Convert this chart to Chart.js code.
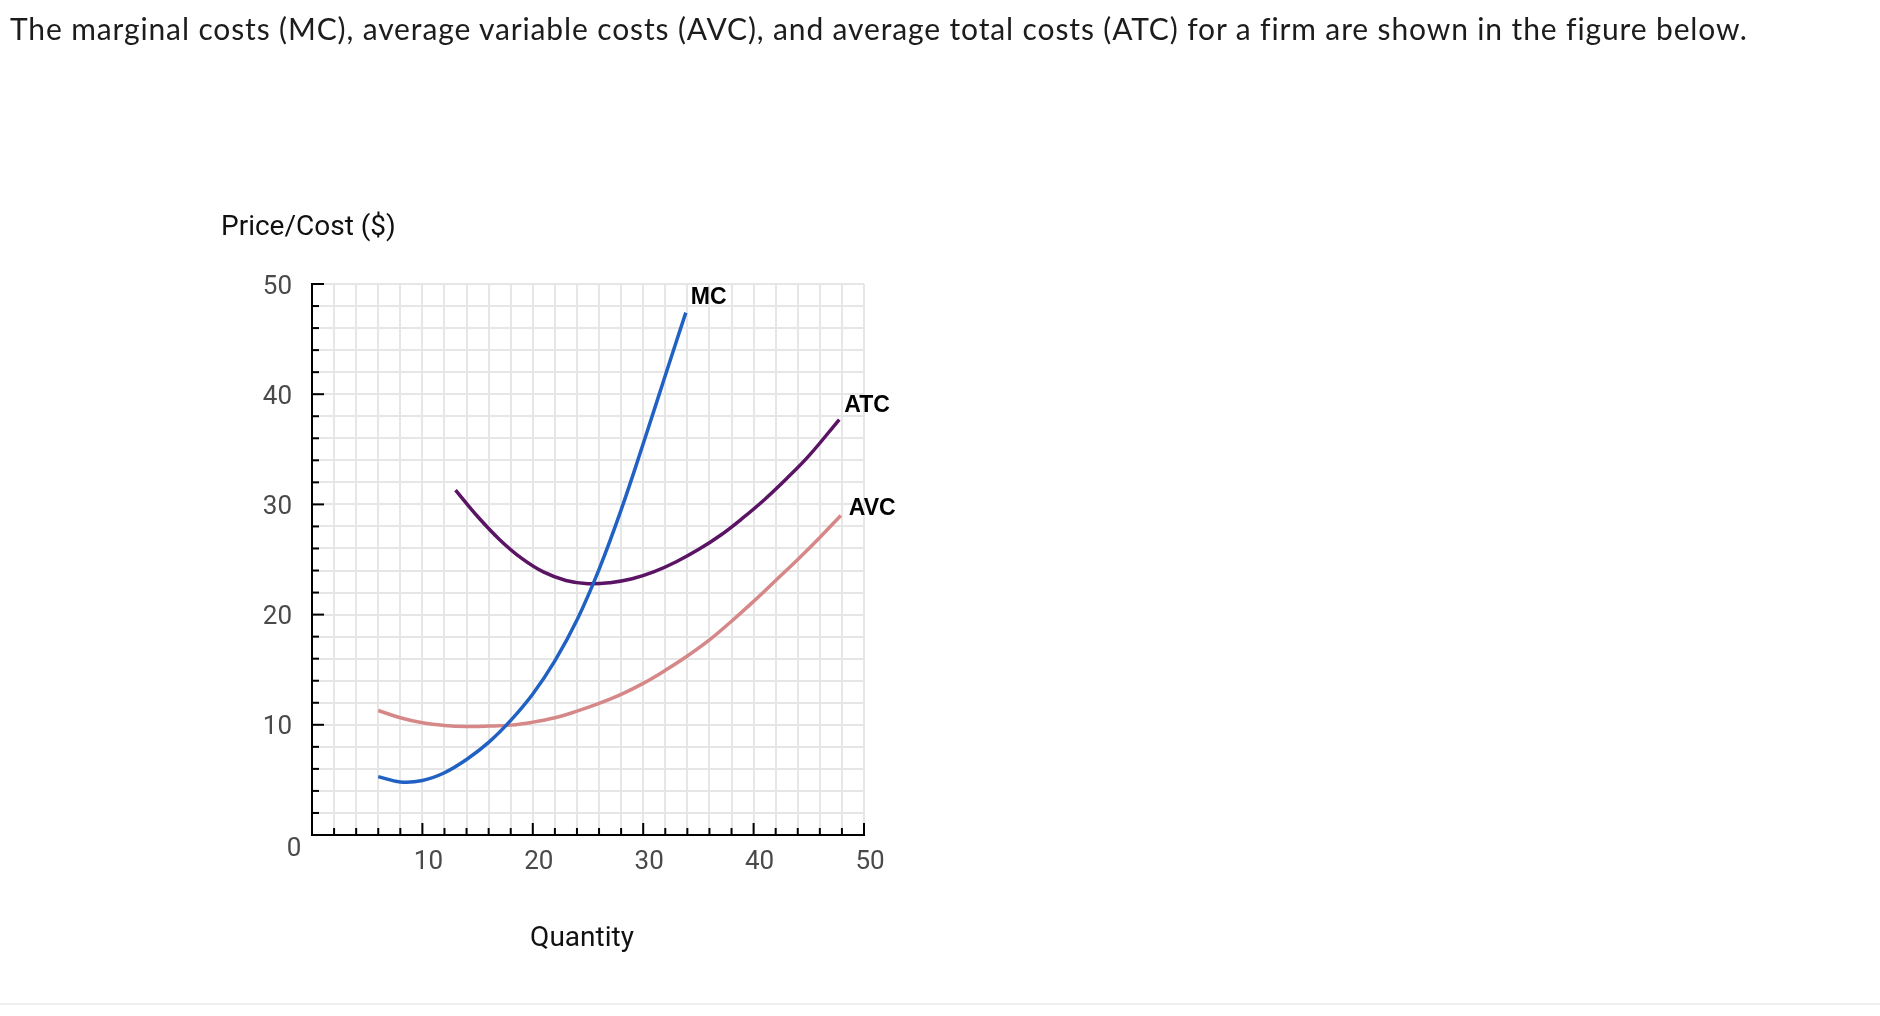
<!DOCTYPE html>
<html>
<head>
<meta charset="utf-8">
<script src="https://cdn.jsdelivr.net/npm/chart.js@4"></script>
<style>
  html, body { margin: 0; padding: 0; background: #fff; }
  body { width: 1880px; height: 1016px; position: relative; overflow: hidden; }
  #question {
    position: absolute; left: 10px; top: 10px;
    font-family: Lato, "Open Sans", sans-serif; font-size: 30px; color: #1c1c1c;
    white-space: nowrap;
  }
  #wrap { position: absolute; left: 0; top: 0; width: 1880px; height: 1016px; }
  #rule { position: absolute; left: 0; top: 1003px; width: 1880px; height: 2px; background: #efefef; }
</style>
</head>
<body>
<div id="wrap"><canvas id="chart-costs" width="1880" height="1016"></canvas></div>
<div id="question">The marginal costs (MC), average variable costs (AVC), and average total costs (ATC) for a firm are shown in the figure below.</div>
<div id="rule"></div>
<script>
// values (quantity, price/cost in $)
const mcQ  = [6, 8, 10, 12, 14, 16, 18, 20, 22, 24, 26, 28, 30, 32, 33.86];
const mcP  = [5.3, 4.82, 4.95, 5.65, 6.85, 8.4, 10.4, 12.8, 15.8, 19.5, 24.1, 29.5, 35.5, 41.7, 47.4];

const atcQ = [13, 15, 17, 19, 21, 23, 25, 27, 29, 31, 33, 35, 37, 39, 41, 43, 45, 47.76];
const atcP = [31.3, 28.9, 26.8, 25.1, 23.85, 23.1, 22.8, 22.9, 23.25, 23.9, 24.8, 25.9, 27.2, 28.75, 30.45, 32.35, 34.4, 37.7];

const avcQ = [6, 8, 10, 12, 14, 16, 18, 20, 22, 24, 26, 28, 30, 32, 34, 36, 38, 40, 42, 44, 46, 47.9];
const avcP = [11.3, 10.64, 10.18, 9.94, 9.85, 9.88, 9.97, 10.24, 10.64, 11.24, 11.94, 12.76, 13.76, 14.94, 16.24, 17.7, 19.4, 21.2, 23.1, 25.0, 27.0, 29.0];

const seriesNames = ['MC', 'ATC', 'AVC'];
const axisMax = 50;
const majorStep = 10;
const minorStep = 2;
const yTitle = 'Price/Cost ($)';
const xTitle = 'Quantity';

const toPoints = (qs, ps) => qs.map((q, i) => ({ x: q, y: ps[i] }));

// label placement next to the end of each curve: [dx, dy]
const labelOffset = { MC: [5, -15], ATC: [5, -14], AVC: [8, -7] };

const tickFont = { family: 'Roboto', size: 26 };
const tickColor = '#4a4a4a';
const tickLabel = v => (v % majorStep === 0 && v !== 0) ? String(v) : '';

// stretch the question text to the width it has in the figure
const q = document.getElementById('question');
const want = 1737;
const have = q.getBoundingClientRect().width;
q.style.letterSpacing = ((want - have) / q.textContent.length).toFixed(2) + 'px';

const line = (label, data, color) => ({
  label, data,
  borderColor: color,
  borderWidth: 3.5,
  pointRadius: 0,
  tension: 0.4,
  fill: false,
});

new Chart(document.getElementById('chart-costs').getContext('2d'), {
  type: 'line',
  data: {
    datasets: [
      line(seriesNames[0], toPoints(mcQ, mcP), '#2161c3'),
      line(seriesNames[1], toPoints(atcQ, atcP), '#5a1463'),
      line(seriesNames[2], toPoints(avcQ, avcP), '#d68888'),
    ],
  },
  options: {
    responsive: false,
    animation: false,
    events: [],
    layout: { padding: { left: 212, top: 284, right: 1016, bottom: 61 } },
    plugins: { legend: { display: false }, tooltip: { enabled: false } },
    scales: {
      x: {
        type: 'linear', min: 0, max: axisMax, position: 'bottom',
        afterFit: s => { s.height = 120; },
        ticks: {
          stepSize: minorStep, autoSkip: false, maxRotation: 0,
          callback: tickLabel, font: tickFont, color: tickColor,
          padding: 12, labelOffset: 6,
        },
        grid: { color: '#e6e6e6', lineWidth: 2, drawTicks: false },
        border: { color: '#000', width: 2 },
      },
      y: {
        type: 'linear', min: 0, max: axisMax,
        afterFit: s => { s.width = 100; },
        ticks: {
          stepSize: minorStep, autoSkip: false,
          callback: tickLabel, font: tickFont, color: tickColor,
          padding: 20, labelOffset: 3,
        },
        grid: { color: '#e6e6e6', lineWidth: 2, drawTicks: false },
        border: { color: '#000', width: 2 },
      },
    },
  },
  plugins: [{
    id: 'econ-decor',
    afterDraw(chart) {
      const { ctx, chartArea: a, scales } = chart;
      ctx.save();
      // inward ticks
      ctx.strokeStyle = '#000';
      ctx.lineWidth = 2;
      for (let v = minorStep; v <= axisMax; v += minorStep) {
        const len = v % majorStep === 0 ? 12 : 7;
        const px = scales.x.getPixelForValue(v);
        const py = scales.y.getPixelForValue(v);
        ctx.beginPath(); ctx.moveTo(px, a.bottom); ctx.lineTo(px, a.bottom - len); ctx.stroke();
        ctx.beginPath(); ctx.moveTo(a.left, py); ctx.lineTo(a.left + len, py); ctx.stroke();
      }
      // origin label
      ctx.fillStyle = tickColor;
      ctx.font = '26px Roboto';
      ctx.textAlign = 'center';
      ctx.textBaseline = 'middle';
      ctx.fillText('0', a.left - 18, a.bottom + 14);
      // axis titles
      ctx.fillStyle = '#111';
      ctx.font = '28px Roboto';
      ctx.textAlign = 'left';
      ctx.fillText(yTitle, a.left - 91, a.top - 56);
      ctx.textAlign = 'center';
      ctx.fillText(xTitle, (a.left + a.right) / 2 - 6, a.bottom + 104);
      // curve labels
      ctx.fillStyle = '#000';
      ctx.font = 'bold 23px "Liberation Sans", Arial, sans-serif';
      ctx.textAlign = 'left';
      chart.data.datasets.forEach((ds, i) => {
        const pts = chart.getDatasetMeta(i).data;
        const end = pts[pts.length - 1];
        const [dx, dy] = labelOffset[ds.label];
        ctx.fillText(ds.label, end.x + dx, end.y + dy);
      });
      ctx.restore();
    },
  }],
});
</script>
</body>
</html>
